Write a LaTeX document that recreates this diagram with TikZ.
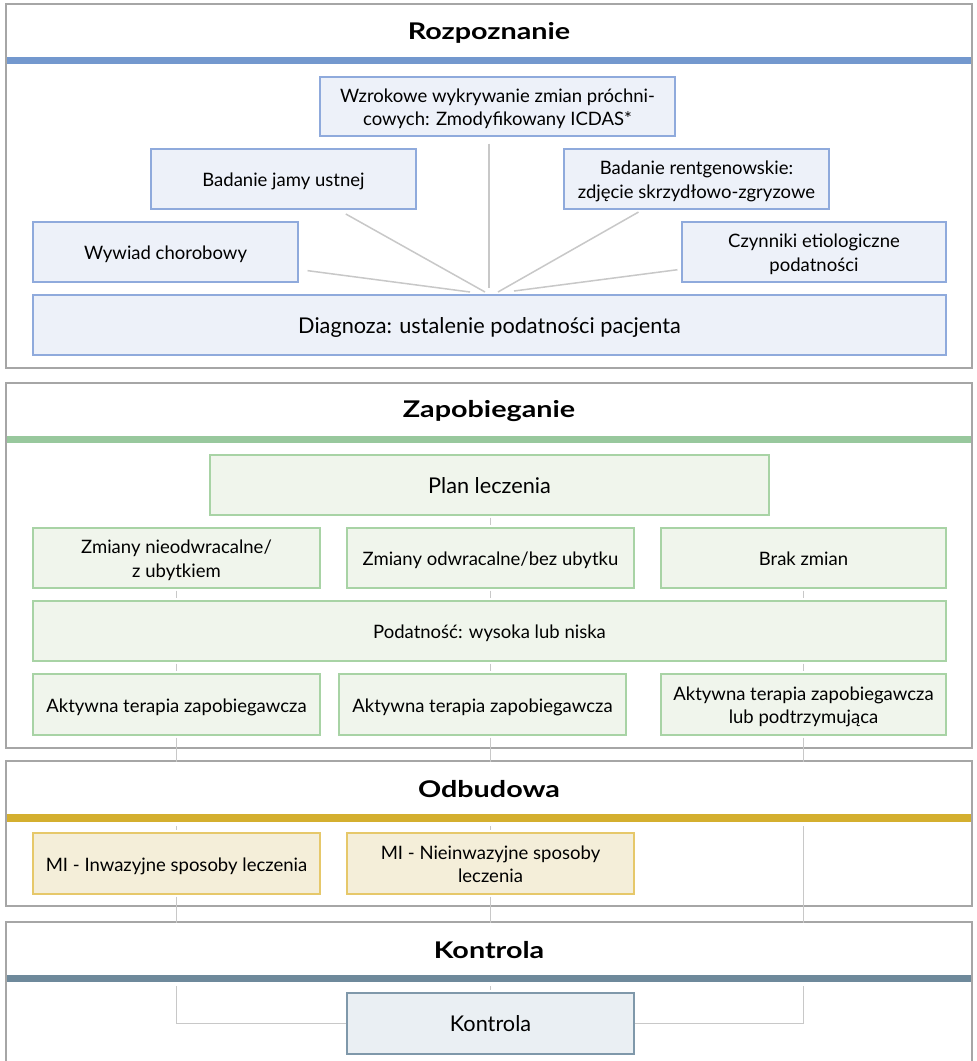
\documentclass[tikz,border=0pt]{standalone}
\usepackage{fontspec}
\setmainfont{Lato}
\newfontfamily\titlefont{Lato}[FakeStretch=1.25]
\usetikzlibrary{calc}
\definecolor{secgray}{HTML}{A6A6A6}
\definecolor{conngray}{HTML}{C8C8C8}
\definecolor{barblue}{HTML}{7398CE}
\definecolor{bluefill}{HTML}{EDF1F9}
\definecolor{blueline}{HTML}{8FAADC}
\definecolor{bargreen}{HTML}{98C89D}
\definecolor{greenfill}{HTML}{F0F5EC}
\definecolor{greenline}{HTML}{A8D3A5}
\definecolor{bargold}{HTML}{D4AF2F}
\definecolor{goldfill}{HTML}{F4EED9}
\definecolor{goldline}{HTML}{E6C86A}
\definecolor{barslate}{HTML}{6E899B}
\definecolor{slatefill}{HTML}{EAEFF3}
\definecolor{slateline}{HTML}{7F98AA}
\newcommand{\tx}[1]{\raisebox{-3pt}[\height][\depth]{\begin{tabular}{@{}c@{}}#1\end{tabular}}}
\pgfdeclarelayer{lframe}
\pgfdeclarelayer{lconn}
\pgfdeclarelayer{lhead}
\pgfsetlayers{lframe,lconn,lhead,main}
\tikzset{
  secframe/.style={draw=secgray, line width=1.5pt},
  conn/.style={draw=conngray, line width=1.5pt},
  tick/.style={conn, shorten <=2pt, shorten >=2pt},
  title/.style={font=\titlefont\fontsize{23}{28}\selectfont\bfseries, inner sep=0pt},
  boxbase/.style={line width=1.2pt, inner sep=2pt,
    font=\fontsize{18.5}{23.5}\selectfont},
  bigtext/.style={font=\fontsize{21.7}{26}\selectfont},
  bbox/.style={boxbase, draw=blueline, fill=bluefill},
  gbox/.style={boxbase, draw=greenline, fill=greenfill},
  ybox/.style={boxbase, draw=goldline, fill=goldfill},
  sbox/.style={boxbase, draw=slateline, fill=slatefill},
}
\begin{document}
\begin{tikzpicture}[x=1pt,y=-1pt]
\useasboundingbox (0,0) rectangle (977,1061);

% background and section frames
\begin{pgfonlayer}{lframe}
\fill[white] (0,0) rectangle (977,1061);
\draw[secframe] (6,4) rectangle (972,368);
\draw[secframe] (6,383) rectangle (972,748);
\draw[secframe] (6,761) rectangle (972,906);
\draw[secframe] (6,1064) -- (6,922) -- (972,922) -- (972,1064);
\end{pgfonlayer}

% header areas
\begin{pgfonlayer}{lhead}
\fill[white] (7,5) rectangle (971,68);
\fill[white] (7,384) rectangle (971,447);
\fill[white] (7,762) rectangle (971,826);
\fill[white] (7,923) rectangle (971,986);
\end{pgfonlayer}

% bars
\fill[barblue] (6.75,57) rectangle (971.25,64);
\fill[bargreen] (6.75,436) rectangle (971.25,443);
\fill[bargold] (6.75,814) rectangle (971.25,822);
\fill[barslate] (6.75,975) rectangle (971.25,982);

% titles
\node[title] (t1) at (489,33) {Rozpoznanie};
\node[title] (t2) at (489,411.5) {Zapobieganie};
\node[title] (t3) at (489,789.5) {Odbudowa};
\node[title] (t4) at (489,950) {Kontrola};

% Section 1
\node[bbox, minimum width=355pt, minimum height=59pt] (wz) at (497.5,106.5)
  {\tx{Wzrokowe wykrywanie zmian próchni-\\cowych: Zmodyfikowany ICDAS*}};
\node[bbox, minimum width=265pt, minimum height=60pt] (jama) at (283.5,179) {\tx{Badanie jamy ustnej}};
\node[bbox, minimum width=265pt, minimum height=60pt] (rtg) at (696.5,179)
  {\tx{Badanie rentgenowskie:\\zdjęcie skrzydłowo-zgryzowe}};
\node[bbox, minimum width=265pt, minimum height=60pt] (wy) at (165.5,252) {\tx{Wywiad chorobowy}};
\node[bbox, minimum width=264pt, minimum height=60pt] (cz) at (814,252)
  {\tx{Czynniki etiologiczne\\podatności}};
\node[bbox, bigtext, minimum width=913pt, minimum height=60pt] (diag) at (489.5,325)
  {\tx{Diagnoza: ustalenie podatności pacjenta}};

% Section 2
\node[gbox, bigtext, minimum width=559pt, minimum height=60pt] (plan) at (489.5,485) {\tx{Plan leczenia}};
\node[gbox, minimum width=287pt, minimum height=60pt] (zn) at (176.5,558) {\tx{Zmiany nieodwracalne/\\z ubytkiem}};
\node[gbox, minimum width=287pt, minimum height=60pt] (zo) at (490.5,558) {\tx{Zmiany odwracalne/bez ubytku}};
\node[gbox, minimum width=285pt, minimum height=60pt] (bz) at (803.5,558) {\tx{Brak zmian}};
\node[gbox, minimum width=913pt, minimum height=60pt] (pod) at (489.5,631) {\tx{Podatność: wysoka lub niska}};
\node[gbox, minimum width=287pt, minimum height=61pt] (ak1) at (176.5,704.5) {\tx{Aktywna terapia zapobiegawcza}};
\node[gbox, minimum width=287pt, minimum height=61pt] (ak2) at (482.5,704.5) {\tx{Aktywna terapia zapobiegawcza}};
\node[gbox, minimum width=285pt, minimum height=61pt] (ak3) at (803.5,704.5)
  {\tx{Aktywna terapia zapobiegawcza\\lub podtrzymująca}};

% Section 3
\node[ybox, minimum width=287pt, minimum height=61pt] (mi1) at (176.5,863.5) {\tx{MI - Inwazyjne sposoby leczenia}};
\node[ybox, minimum width=287pt, minimum height=61pt] (mi2) at (490.5,863.5)
  {\tx{MI - Nieinwazyjne sposoby\\leczenia}};

% Section 4
\node[sbox, bigtext, minimum width=287pt, minimum height=61pt] (kon) at (490.5,1023.5) {\tx{Kontrola}};

% connectors
\coordinate (e1) at (470,292);
\coordinate (e2) at (485,292);
\coordinate (e3) at (489,288);
\coordinate (e4) at (498,292);
\coordinate (e5) at (514,291);
\begin{pgfonlayer}{lconn}
\draw[conn, shorten <=9pt] (wy) -- (e1);
\draw[conn, shorten <=9pt] (jama) -- (e2);
\draw[conn, shorten <=7pt] (e3 |- wz.south) -- (e3);
\draw[conn, shorten <=5pt] (rtg) -- (e4);
\draw[conn, shorten <=4pt] (cz) -- (e5);

\draw[tick] (plan.south -| zo.south) -- (zo.north);
\draw[tick] (zn.south) -- (zn.south |- pod.north);
\draw[tick] (zo.south) -- (zo.south |- pod.north);
\draw[tick] (bz.south) -- (bz.south |- pod.north);
\draw[tick] (ak1.north |- pod.south) -- (ak1.north);
\draw[tick] (zo.south |- pod.south) -- (zo.south |- ak2.north);
\draw[tick] (ak3.north |- pod.south) -- (ak3.north);

\draw[tick] (ak1.south) -- (mi1.north);
\draw[tick] (mi2.north |- ak2.south) -- (mi2.north);
\draw[conn, shorten <=2pt] (ak3.south) -- (ak3.south |- kon.east) -- (kon.east);
\draw[conn, shorten <=2pt] (mi1.south) -- (mi1.south |- kon.west) -- (kon.west);
\draw[tick] (mi2.south) -- (kon.north);
\end{pgfonlayer}
\end{tikzpicture}
\end{document}
